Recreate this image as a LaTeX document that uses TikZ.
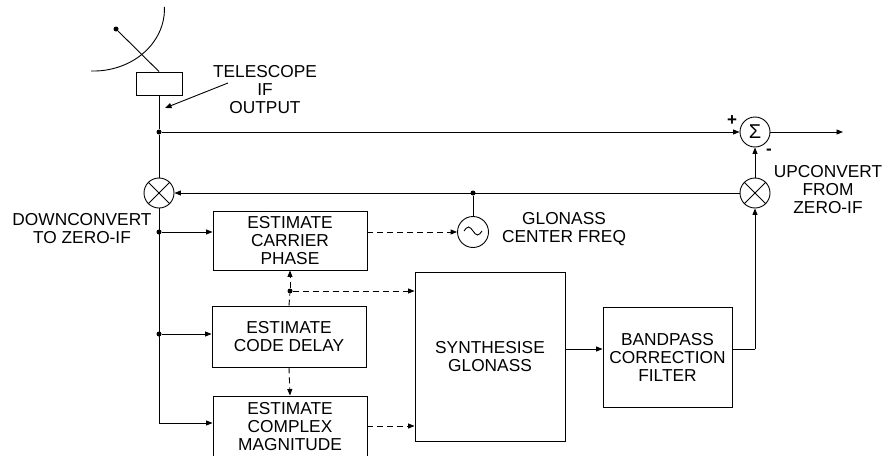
\documentclass[tikz,border=0pt]{standalone}
\usepackage{fontspec}
\setmainfont{Liberation Sans}
\usetikzlibrary{arrows.meta,calc}
\tikzset{
  ln/.style={line width=0.9pt},
  arr/.style={ln,-{Triangle[length=6.5pt,width=5pt]}},
  dsh/.style={ln,dash pattern=on 6pt off 4pt},
  darr/.style={dsh,-{Triangle[length=6.5pt,width=5pt]}},
  txt/.style={font=\fontsize{17.3}{18}\selectfont},
  blk/.style={draw,line width=0.9pt,align=center,inner sep=0pt,txt},
  lbl/.style={align=center,inner sep=0pt,txt},
  rnd/.style={draw,circle,line width=0.9pt,inner sep=0pt,minimum size=30pt},
  dot/.style={fill,circle,inner sep=0pt,minimum size=5pt}
}
\begin{document}
\begin{tikzpicture}[x=1pt,y=-1pt]
\useasboundingbox (0,0) rectangle (883,455);
% dish
\draw[ln] (91,71) arc[start angle=92,end angle=-2,x radius=71,y radius=62];
\node[dot] (feed) at (116,29) {};
\node[draw,line width=0.9pt,minimum width=46pt,minimum height=23pt,inner sep=0pt] (tb) at (159,83.5) {};
\draw[ln] (feed) -- (tb.north);
% telescope label
\node[lbl] (tel) at (265,90) {TELESCOPE\\IF\\OUTPUT};
\coordinate (tls) at (228,83);
\coordinate (tlt) at (165,108);
\draw[arr] (tls) -- (tlt);
% circles
\node[rnd] (m1) at (159,193) {};
\draw[ln] (m1.45) -- (m1.225) (m1.135) -- (m1.315);
\node[rnd] (m2) at (755,193) {};
\draw[ln] (m2.45) -- (m2.225) (m2.135) -- (m2.315);
\node[rnd,font=\fontsize{20}{20}\selectfont] (sum) at (755,132) {Σ};
\node[rnd,minimum size=31pt] (osc) at (473,232) {};
\draw[ln] ($(osc.center)+(-9pt,1pt)$) sin ++(4.5pt,4pt) cos ++(4.5pt,-4pt) sin ++(4.5pt,-4pt) cos ++(4.5pt,4pt);
% boxes
\node[blk,minimum width=154pt,minimum height=59pt] (cp) at (290,240.5) {ESTIMATE\\CARRIER\\PHASE};
\node[blk,minimum width=154pt,minimum height=61pt] (cd) at (289,336.5) {ESTIMATE\\CODE DELAY};
\node[blk,minimum width=154pt,minimum height=62pt] (cm) at (290,427) {ESTIMATE\\COMPLEX\\MAGNITUDE};
\node[blk,minimum width=150pt,minimum height=169pt] (sy) at (490,356.5) {SYNTHESISE\\GLONASS};
\node[blk,minimum width=129pt,minimum height=100pt] (bp) at (667.5,357) {BANDPASS\\CORRECTION\\FILTER};
% labels
\node[lbl] (dc) at (82,228.5) {DOWNCONVERT\\TO ZERO-IF};
\node[lbl] (uc) at (828,190) {UPCONVERT\\FROM\\ZERO-IF};
\node[lbl] (gl) at (564,229.5) {GLONASS\\CENTER FREQ};
\node[lbl,font=\bfseries\fontsize{17}{17}\selectfont] (plus) at (732,121) {+};
\node[lbl,font=\bfseries\fontsize{17}{17}\selectfont] (minus) at (769,152) {-};
% main signal path
\node[dot] (j1) at (159,132) {};
\draw[ln] (tb.south) -- (j1) -- (m1.north);
\draw[arr] (j1) -- (sum.west);
\coordinate (out) at (843,132);
\draw[arr] (sum.east) -- (out);
\draw[arr] (m2.west) -- (m1.east);
\node[dot] (j2) at (473,193) {};
\draw[ln] (j2) -- (osc.north);
\draw[arr] (m2.north) -- (sum.south);
% left feed to estimators
\node[dot] (a1) at (159,232) {};
\node[dot] (a2) at (159,334) {};
\coordinate (a3) at (159,423);
\draw[ln] (m1.south) -- (a3);
\draw[arr] (a1) -- (a1 -| cp.west);
\draw[arr] (a2) -- (a2 -| cd.west);
\draw[arr] (a3) -- (a3 -| cm.west);
% dashed control paths
\draw[darr] (a1 -| cp.east) -- (osc.west);
\node[dot] (d) at (290,291) {};
\draw[dsh] (cd.north) -- (d);
\draw[darr] (d) -- (cp.south);
\draw[darr] (d) -- (d -| sy.west);
\draw[darr] (cd.south) -- (cm.north);
\coordinate (e) at (367,426);
\draw[darr] (e) -- (e -| sy.west);
% synth to bandpass to upconvert
\coordinate (s) at (565,349);
\draw[arr] (s) -- (s -| bp.west);
\coordinate (r) at (755,349);
\draw[ln] (r -| bp.east) -- (r);
\draw[arr] (r) -- (m2.south);
\end{tikzpicture}
\end{document}
